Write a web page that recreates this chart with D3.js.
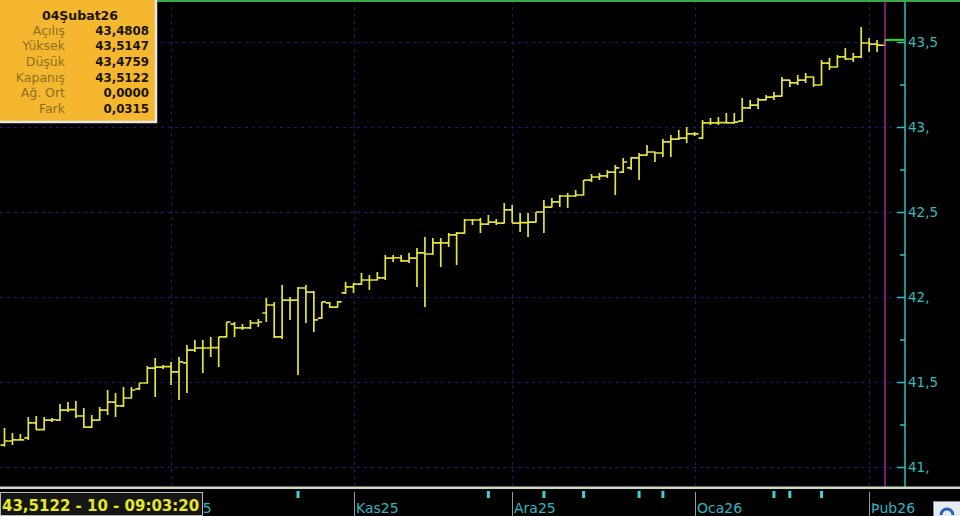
<!DOCTYPE html>
<html><head><meta charset="utf-8">
<script src="https://cdn.jsdelivr.net/npm/d3@7/dist/d3.min.js"></script>
<style>html,body{margin:0;padding:0;background:#000;overflow:hidden}svg{display:block}</style>
</head><body><svg id="c" width="960" height="516"></svg>
<script>
// ---- data ----
const open=[41.129,41.153,41.159,41.171,41.259,41.220,41.276,41.276,41.335,41.338,
41.300,41.235,41.276,41.335,41.382,41.359,41.406,41.460,41.494,41.582,
41.588,41.590,41.559,41.612,41.688,41.700,41.700,41.702,41.765,41.841,
41.818,41.818,41.847,41.906,41.953,41.765,41.982,41.982,42.053,42.029,
41.876,41.965,41.941,42.024,42.059,42.076,42.100,42.100,42.112,42.229,
42.231,42.212,42.229,42.259,42.253,42.318,42.318,42.365,42.376,42.453,
42.453,42.429,42.441,42.435,42.512,42.435,42.437,42.441,42.500,42.529,
42.559,42.594,42.594,42.600,42.688,42.706,42.712,42.735,42.735,42.759,
42.818,42.835,42.853,42.847,42.912,42.929,42.935,42.959,42.935,43.024,
43.024,43.026,43.024,43.035,43.112,43.129,43.159,43.176,43.182,43.276,
43.259,43.276,43.294,43.247,43.376,43.353,43.412,43.400,43.412,43.494,
43.488,43.4808];
const high=[41.229,41.200,41.194,41.294,41.300,41.294,41.288,41.371,41.382,41.388,
41.347,41.306,41.353,41.453,41.435,41.471,41.471,41.494,41.594,41.641,
41.600,41.618,41.647,41.718,41.747,41.747,41.765,41.765,41.853,41.853,
41.841,41.865,41.871,41.994,41.971,42.071,42.000,42.059,42.071,42.035,
41.971,41.971,41.976,42.088,42.082,42.141,42.129,42.147,42.247,42.247,
42.247,42.259,42.288,42.353,42.347,42.347,42.376,42.382,42.459,42.459,
42.465,42.482,42.459,42.553,42.541,42.494,42.494,42.500,42.571,42.582,
42.600,42.612,42.629,42.688,42.724,42.729,42.747,42.776,42.818,42.824,
42.847,42.894,42.856,42.929,42.953,42.982,43.000,42.971,43.041,43.053,
43.059,43.082,43.082,43.171,43.159,43.171,43.188,43.206,43.294,43.278,
43.306,43.318,43.297,43.394,43.406,43.424,43.465,43.435,43.588,43.524,
43.512,43.5147];
const low=[41.120,41.129,41.155,41.159,41.218,41.215,41.265,41.272,41.324,41.288,
41.230,41.230,41.272,41.306,41.294,41.353,41.403,41.453,41.490,41.412,
41.576,41.482,41.394,41.435,41.676,41.553,41.647,41.588,41.762,41.765,
41.806,41.812,41.824,41.853,41.759,41.753,41.865,41.541,41.847,41.794,
41.871,41.935,41.938,42.018,42.024,42.071,42.041,42.097,42.100,42.206,
42.206,42.200,42.059,41.941,42.247,42.176,42.294,42.188,42.372,42.424,
42.376,42.424,42.424,42.432,42.435,42.382,42.353,42.438,42.376,42.526,
42.529,42.524,42.588,42.597,42.676,42.688,42.700,42.600,42.729,42.747,
42.688,42.832,42.794,42.824,42.824,42.924,42.906,42.947,42.930,43.012,
43.012,43.020,43.020,43.029,43.106,43.106,43.156,43.159,43.180,43.235,
43.247,43.259,43.235,43.245,43.335,43.350,43.394,43.382,43.406,43.441,
43.441,43.4759];
const close=[41.153,41.159,41.160,41.259,41.220,41.276,41.278,41.335,41.338,41.300,
41.235,41.276,41.335,41.382,41.359,41.406,41.453,41.494,41.582,41.588,
41.590,41.559,41.618,41.688,41.700,41.700,41.702,41.765,41.853,41.818,
41.818,41.847,41.853,41.953,41.765,41.982,41.982,42.053,42.029,41.865,
41.971,41.941,41.971,42.059,42.076,42.100,42.100,42.112,42.229,42.231,
42.212,42.229,42.259,42.253,42.318,42.318,42.365,42.376,42.453,42.453,
42.429,42.441,42.435,42.512,42.435,42.437,42.441,42.500,42.529,42.559,
42.594,42.594,42.600,42.688,42.706,42.712,42.735,42.759,42.794,42.818,
42.835,42.853,42.847,42.912,42.929,42.935,42.959,42.960,43.024,43.024,
43.026,43.024,43.029,43.112,43.129,43.159,43.176,43.182,43.276,43.259,
43.276,43.294,43.247,43.376,43.353,43.412,43.400,43.412,43.494,43.488,
43.482,43.5122];
const firstDay=[2025,8,2]; // 2 Sep 2025, one bar per weekday
const monthLabels=["Eki25","Kas25","Ara25","Oca26","Þub26"];
const yTicks=[41,41.5,42,42.5,43,43.5];
const yTickLabels=["41,","41,5","42,","42,5","43,","43,5"];
const yMinorTicks=[41.25,41.75,42.25,42.75,43.25];
const markerIdx=[37,61,68,73,80,83,97,99,103];
const infoTitle="04Şubat26";
const infoLabels=["Açılış","Yüksek","Düşük","Kapanış","Ağ. Ort","Fark"];
const infoValues=["43,4808","43,5147","43,4759","43,5122","0,0000","0,0315"];
const statusText="43,5122 - 10 - 09:03:20";

// ---- derived ----
const n=open.length;
const dates=[];
{let d=new Date(firstDay[0],firstDay[1],firstDay[2]);
 while(dates.length<n){const w=d.getDay(); if(w!==0&&w!==6) dates.push(new Date(d)); d.setDate(d.getDate()+1);}}
const monthStarts=[];
for(let i=1;i<n;i++) if(dates[i].getMonth()!==dates[i-1].getMonth()) monthStarts.push(i);

const svg=d3.select("#c");
const W=960,H=516, axisX=905, plotBottom=487, statusW=203;
const x=d3.scaleLinear().domain([0,n-1]).range([4.5,885]);
const y=d3.scaleLinear().domain([41,43.5]).range([467,42]);

svg.append("rect").attr("width",W).attr("height",H).attr("fill","#000");
const defs=svg.append("defs");
defs.append("clipPath").attr("id","stripClip").append("rect")
  .attr("x",statusW).attr("y",488).attr("width",W-statusW).attr("height",H-488);

// grid
const grid=svg.append("g").attr("stroke","#1a1a78").attr("stroke-width",1).attr("stroke-dasharray","3,4");
grid.selectAll("line.h").data(yTicks).join("line").attr("class","h")
  .attr("x1",0).attr("x2",axisX).attr("y1",d=>Math.round(y(d))+0.5).attr("y2",d=>Math.round(y(d))+0.5);
grid.selectAll("line.v").data(monthStarts).join("line").attr("class","v")
  .attr("x1",d=>Math.round(x(d))+0.5).attr("x2",d=>Math.round(x(d))+0.5).attr("y1",0).attr("y2",plotBottom);

// OHLC bars
const idx=d3.range(n);
svg.append("g").attr("fill","none").attr("stroke","#e4e43e").attr("stroke-width",1.7)
  .selectAll("path").data(idx).join("path")
  .attr("d",i=>{const xi=x(i);return `M${xi},${y(high[i])}V${y(low[i])}M${xi-4},${y(open[i])}H${xi}M${xi},${y(close[i])}H${xi+4}`;});

// crosshair line at last bar
svg.append("line").attr("x1",x(n-1)).attr("x2",x(n-1)).attr("y1",0).attr("y2",plotBottom)
  .attr("stroke","#a3229f").attr("stroke-width",1.5);
// last price line
svg.append("line").attr("x1",x(n-1)).attr("x2",axisX-1).attr("y1",y(close[n-1])).attr("y2",y(close[n-1]))
  .attr("stroke","#22e022").attr("stroke-width",2);

// right axis
svg.append("line").attr("x1",axisX).attr("x2",axisX).attr("y1",0).attr("y2",plotBottom)
  .attr("stroke","#2fbfbf").attr("stroke-width",1.5);
const ax=svg.append("g").attr("transform",`translate(${axisX},0)`)
  .call(d3.axisRight(y).tickValues(yTicks).tickSize(-8).tickPadding(3)
    .tickFormat(d=>yTickLabels[yTicks.indexOf(d)]));
ax.select(".domain").remove();
ax.selectAll("line").attr("stroke","#2fbfbf").attr("stroke-width",1.5);
ax.selectAll("text").attr("fill","#2fbcbc").attr("font-family","DejaVu Sans").attr("font-size",13.5);
const axm=svg.append("g").attr("transform",`translate(${axisX},0)`)
  .call(d3.axisRight(y).tickValues(yMinorTicks).tickSize(-5).tickFormat(""));
axm.select(".domain").remove();
axm.selectAll("line").attr("stroke","#2fbfbf").attr("stroke-width",1.5);

// top green border
svg.append("rect").attr("x",0).attr("y",0).attr("width",W).attr("height",2).attr("fill","#3aa64a");
// bottom separator
svg.append("rect").attr("x",0).attr("y",plotBottom-0.5).attr("width",W).attr("height",2.5).attr("fill","#c6dcc0");

// bottom strip: month separators & labels (clipped where the status box covers them)
const bs=svg.append("g").attr("clip-path","url(#stripClip)");
bs.selectAll("line").data(monthStarts).join("line")
  .attr("x1",d=>Math.round(x(d))+0.5).attr("x2",d=>Math.round(x(d))+0.5).attr("y1",492).attr("y2",H)
  .attr("stroke","#9a9a9a").attr("stroke-width",1);
bs.selectAll("text").data(monthStarts).join("text")
  .attr("x",d=>Math.round(x(d))+2).attr("y",513)
  .attr("fill","#2bb8c2").attr("font-family","DejaVu Sans").attr("font-size",14)
  .text((d,i)=>monthLabels[i]);
svg.append("g").selectAll("rect").data(markerIdx).join("rect")
  .attr("x",i=>x(i)-1.5).attr("y",491).attr("width",3).attr("height",7).attr("fill","#3cd2da");

// status box
svg.append("rect").attr("x",0.5).attr("y",492.5).attr("width",statusW-1).attr("height",23)
  .attr("fill","#151515").attr("stroke","#b8b8b8").attr("stroke-width",1);
svg.append("text").attr("x",2).attr("y",511).attr("fill","#e8e820")
  .attr("font-family","DejaVu Sans").attr("font-weight","bold").attr("font-size",15).text(statusText);

// icon bottom-right
svg.append("rect").attr("x",933.5).attr("y",501.5).attr("width",28).attr("height",16)
  .attr("fill","#e6eaf2").attr("stroke","#8a8a8a");
svg.append("path").attr("d","M941,515 A6,6 0 1,1 953,515").attr("fill","none")
  .attr("stroke","#2a5fc0").attr("stroke-width",3);

// info box
const ib=svg.append("g");
ib.append("rect").attr("x",-2).attr("y",-2).attr("width",158).attr("height",124)
  .attr("fill","#f4b72f").attr("stroke","#e6e6e6").attr("stroke-width",2.5);
ib.append("text").attr("x",80).attr("y",19.5).attr("text-anchor","middle")
  .attr("font-family","DejaVu Sans").attr("font-weight","bold").attr("font-size",12.5)
  .attr("fill","#1a1400").text(infoTitle);
ib.selectAll("text.l").data(infoLabels).join("text").attr("class","l")
  .attr("x",65).attr("y",(d,i)=>34.5+i*15.7).attr("text-anchor","end")
  .attr("font-family","DejaVu Sans").attr("font-size",12.5).attr("fill","#8e6f1c").text(d=>d);
ib.selectAll("text.v").data(infoValues).join("text").attr("class","v")
  .attr("x",149).attr("y",(d,i)=>34.5+i*15.7).attr("text-anchor","end")
  .attr("font-family","DejaVu Sans").attr("font-weight","bold").attr("font-size",11.8).attr("fill","#1a1400").text(d=>d);
</script></body></html>
